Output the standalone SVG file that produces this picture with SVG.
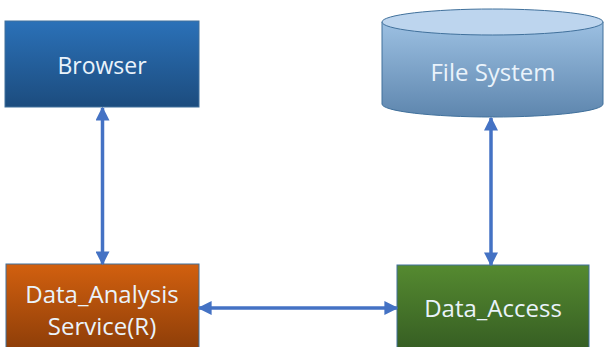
<svg xmlns="http://www.w3.org/2000/svg" width="605" height="347" viewBox="0 0 605 347">
<defs>
<linearGradient id="gBlue" x1="0" y1="0" x2="0" y2="1"><stop offset="0" stop-color="#2B71B8"/><stop offset="1" stop-color="#1C4C7E"/></linearGradient>
<linearGradient id="gCyl" x1="0" y1="0" x2="0" y2="1"><stop offset="0" stop-color="#9CC0E2"/><stop offset="1" stop-color="#5E86AE"/></linearGradient>
<linearGradient id="gOrange" x1="0" y1="0" x2="0" y2="1"><stop offset="0" stop-color="#D2600F"/><stop offset="1" stop-color="#8A3C08"/></linearGradient>
<linearGradient id="gGreen" x1="0" y1="0" x2="0" y2="1"><stop offset="0" stop-color="#558A30"/><stop offset="1" stop-color="#345B22"/></linearGradient>
<marker id="ah" viewBox="0 0 10 10" refX="9" refY="5" markerWidth="4" markerHeight="4" orient="auto-start-reverse" markerUnits="strokeWidth">
<path d="M0,0 L10,5 L0,10 Z" fill="#4472C4"/>
</marker>
<style>
.lbl{font-family:"Open Sans","Noto Sans",sans-serif;font-size:24px;fill:#EAF3FB;text-anchor:middle;}
.box{stroke:#41719C;stroke-width:1;}
.conn{stroke:#4472C4;stroke-width:3.5;fill:none;}
</style>
</defs>
<rect width="605" height="347" fill="#fff"/>
<g id="browser">
<rect class="box" x="5" y="21" width="194" height="86" fill="url(#gBlue)"/>
<text class="lbl" x="102" y="74" style="font-size:23px">Browser</text>
</g>
<g id="filesystem">
<path class="box" d="M382,22 L382,104 A110.5,13 0 0 0 603,104 L603,22" fill="url(#gCyl)"/>
<ellipse class="box" cx="492.5" cy="22" rx="110.5" ry="13" fill="#BDD5EE"/>
<text class="lbl" x="493" y="81">File System</text>
</g>
<g id="data_analysis">
<rect class="box" x="6" y="264" width="193" height="90" fill="url(#gOrange)"/>
<text class="lbl" x="102" y="303">Data_Analysis</text>
<text class="lbl" x="102" y="335">Service(R)</text>
</g>
<g id="data_access">
<rect class="box" x="397" y="265" width="192" height="90" fill="url(#gGreen)"/>
<text class="lbl" x="493" y="317">Data_Access</text>
</g>
<g id="connectors">
<line class="conn" x1="102.5" y1="108" x2="102.5" y2="264" marker-start="url(#ah)" marker-end="url(#ah)"/>
<line class="conn" x1="491" y1="118" x2="491" y2="265" marker-start="url(#ah)" marker-end="url(#ah)"/>
<line class="conn" x1="199" y1="308" x2="397" y2="308" marker-start="url(#ah)" marker-end="url(#ah)"/>
</g>
</svg>
